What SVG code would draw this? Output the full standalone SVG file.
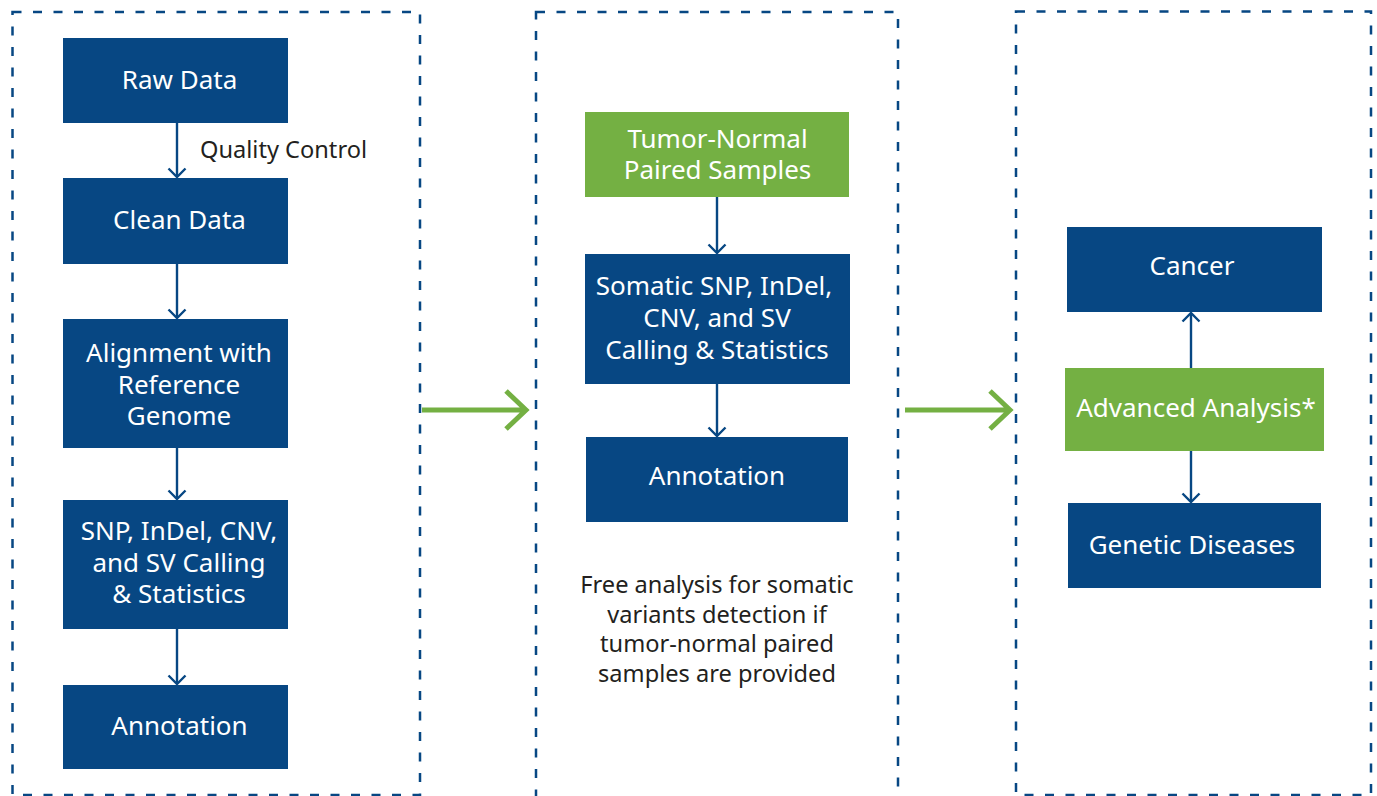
<svg xmlns="http://www.w3.org/2000/svg" width="1377" height="796" viewBox="0 0 1377 796">
<style>
.panel{fill:none;stroke:#074783;stroke-width:2.5;stroke-dasharray:9 11.5}
.blue{fill:#074783}
.green{fill:#74b043}
.wt{fill:#ffffff;font-family:"Noto Sans","Open Sans",sans-serif;font-size:26px;text-anchor:middle}
.dk{fill:#231f20;font-family:"Noto Sans","Open Sans",sans-serif;font-size:23.6px}
.conn{fill:none;stroke:#074783;stroke-width:2.4}
.big{fill:none;stroke:#74b043;stroke-width:5}
</style>
<defs>
<marker id="ah" viewBox="0 0 20 20" refX="10" refY="10" markerWidth="20" markerHeight="20" markerUnits="userSpaceOnUse" orient="auto">
<path d="M1.5 1.5 L10 10 L1.5 18.5" fill="none" stroke="#074783" stroke-width="2.4"/>
</marker>
</defs>
<rect width="1377" height="796" fill="#ffffff"/>
<g id="panels">
<rect class="panel" x="12.5" y="12" width="407.5" height="783"/>
<rect class="panel" x="536" y="12" width="362" height="800"/>
<rect class="panel" x="1016" y="11.5" width="355" height="783.5"/>
</g>
<g id="connectors">
<line class="conn" x1="177" y1="123" x2="177" y2="177" marker-end="url(#ah)"/>
<line class="conn" x1="177" y1="264" x2="177" y2="318" marker-end="url(#ah)"/>
<line class="conn" x1="177" y1="448" x2="177" y2="499" marker-end="url(#ah)"/>
<line class="conn" x1="177" y1="629" x2="177" y2="684" marker-end="url(#ah)"/>
<line class="conn" x1="717" y1="197" x2="717" y2="253" marker-end="url(#ah)"/>
<line class="conn" x1="717" y1="384" x2="717" y2="436" marker-end="url(#ah)"/>
<line class="conn" x1="1191" y1="368" x2="1191" y2="313" marker-end="url(#ah)"/>
<line class="conn" x1="1191" y1="451" x2="1191" y2="502" marker-end="url(#ah)"/>
<path class="big" d="M422 410 H527 M506 391 L526 410 L506 429"/>
<path class="big" d="M905 410 H1011 M990 391 L1010 410 L990 429"/>
</g>
<g id="n-raw"><rect class="blue" x="63" y="38" width="225" height="85"/><text class="wt" x="179.5" y="89">Raw Data</text></g>
<text id="qc" class="dk" x="200" y="158">Quality Control</text>
<g id="n-clean"><rect class="blue" x="63" y="178" width="225" height="86"/><text class="wt" x="179.5" y="229">Clean Data</text></g>
<g id="n-align"><rect class="blue" x="63" y="319" width="225" height="129"/><text class="wt" x="179" y="362">Alignment with</text><text class="wt" x="179" y="394">Reference</text><text class="wt" x="179" y="425">Genome</text></g>
<g id="n-snp"><rect class="blue" x="63" y="500" width="225" height="129"/><text class="wt" x="179" y="540">SNP, InDel, CNV,</text><text class="wt" x="179" y="572">and SV Calling</text><text class="wt" x="179" y="603">&amp; Statistics</text></g>
<g id="n-annot1"><rect class="blue" x="63" y="685" width="225" height="84"/><text class="wt" x="179.5" y="735">Annotation</text></g>
<g id="n-tumor"><rect class="green" x="585" y="112" width="264" height="85"/><text class="wt" x="717.5" y="148">Tumor-Normal</text><text class="wt" x="717.5" y="179">Paired Samples</text></g>
<g id="n-somatic"><rect class="blue" x="585" y="254" width="265" height="130"/><text class="wt" x="714" y="295">Somatic SNP, InDel,</text><text class="wt" x="717" y="327">CNV, and SV</text><text class="wt" x="717" y="359">Calling &amp; Statistics</text></g>
<g id="n-annot2"><rect class="blue" x="586" y="437" width="262" height="85"/><text class="wt" x="717" y="485">Annotation</text></g>
<g id="note"><text class="dk" text-anchor="middle" x="717" y="593">Free analysis for somatic</text><text class="dk" text-anchor="middle" x="717" y="622.5">variants detection if</text><text class="dk" text-anchor="middle" x="717" y="652">tumor-normal paired</text><text class="dk" text-anchor="middle" x="717" y="681.5">samples are provided</text></g>
<g id="n-cancer"><rect class="blue" x="1067" y="227" width="255" height="85"/><text class="wt" x="1192" y="275">Cancer</text></g>
<g id="n-adv"><rect class="green" x="1065" y="368" width="259" height="83"/><text class="wt" x="1196" y="417">Advanced Analysis*</text></g>
<g id="n-genetic"><rect class="blue" x="1068" y="503" width="253" height="85"/><text class="wt" x="1192" y="554">Genetic Diseases</text></g>
</svg>
